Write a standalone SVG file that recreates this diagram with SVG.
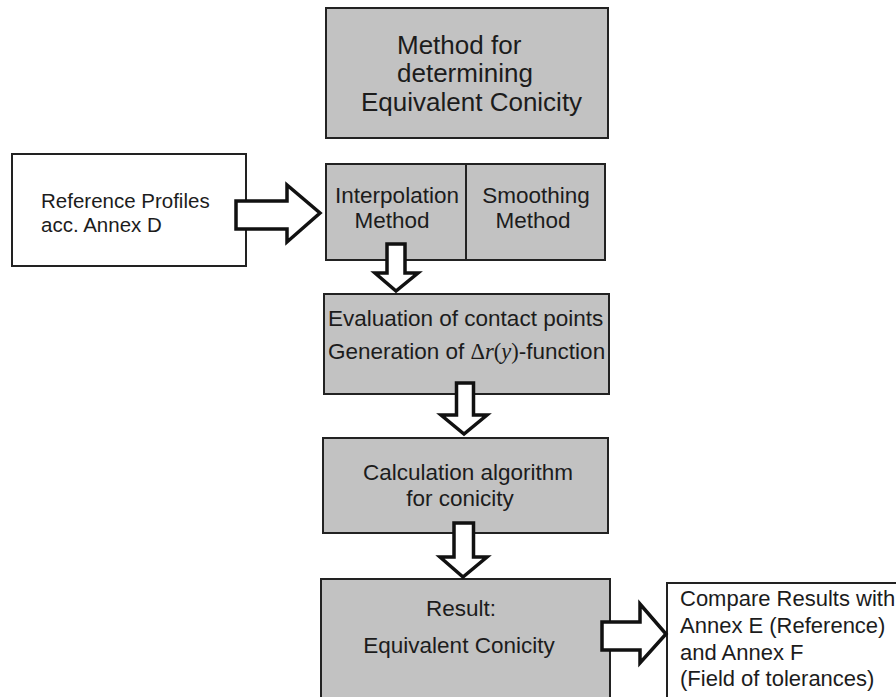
<svg xmlns="http://www.w3.org/2000/svg" width="896" height="697" viewBox="0 0 896 697">
<style>
.box{fill:#c2c2c2;stroke:#222;stroke-width:2}
.wbox{fill:#fff;stroke:#222;stroke-width:2}
text{font-family:"Liberation Sans",Arial,sans-serif;fill:#1c1c1c}
.t26{font-size:26px}
.t22{font-size:22.5px}
.t22b{font-size:22px}
.t20{font-size:20.5px}
.arr{fill:#fff;stroke:#111;stroke-width:3.5;stroke-linejoin:miter}
.serif{font-family:"Liberation Serif","Times New Roman",serif}
</style>
<rect width="896" height="697" fill="#fff"/>
<g id="title">
<rect class="box" x="326" y="8" width="282" height="130"/>
<text class="t26" x="397" y="54">Method for</text>
<text class="t26" x="397" y="82">determining</text>
<text class="t26" x="361" y="111">Equivalent Conicity</text>
</g>
<g id="reference-profiles">
<rect class="wbox" x="12" y="154" width="234" height="112"/>
<text class="t20" x="41" y="208">Reference Profiles</text>
<text class="t20" x="41" y="232">acc. Annex D</text>
</g>
<g id="interpolation">
<rect class="box" x="326" y="164" width="140" height="96"/>
<text class="t22" x="397" y="203" text-anchor="middle">Interpolation</text>
<text class="t22" x="392" y="228" text-anchor="middle">Method</text>
</g>
<g id="smoothing">
<rect class="box" x="466" y="164" width="139" height="96"/>
<text class="t22" x="536" y="203" text-anchor="middle">Smoothing</text>
<text class="t22" x="533" y="228" text-anchor="middle">Method</text>
</g>
<g id="evaluation">
<rect class="box" x="324" y="294" width="285" height="100"/>
<text class="t22" x="328" y="326">Evaluation of contact points</text>
<text class="t22" x="328" y="359">Generation of <tspan class="serif">Δ</tspan><tspan class="serif" font-style="italic">r</tspan><tspan class="serif">(</tspan><tspan class="serif" font-style="italic">y</tspan><tspan class="serif">)</tspan>-function</text>
</g>
<g id="calculation">
<rect class="box" x="323" y="438" width="285" height="95"/>
<text class="t22" x="468" y="480" text-anchor="middle">Calculation algorithm</text>
<text class="t22" x="460" y="506" text-anchor="middle">for conicity</text>
</g>
<g id="result">
<rect class="box" x="321" y="579" width="289" height="140"/>
<text class="t22" x="461" y="616" text-anchor="middle">Result:</text>
<text class="t22" x="459" y="653" text-anchor="middle">Equivalent Conicity</text>
</g>
<g id="compare">
<rect class="wbox" x="667" y="583" width="250" height="140"/>
<text class="t22b" x="680" y="606">Compare Results with</text>
<text class="t22b" x="680" y="633">Annex E (Reference)</text>
<text class="t22b" x="680" y="660">and Annex F</text>
<text class="t22b" x="680" y="686">(Field of tolerances)</text>
</g>
<g id="connectors">
<path class="arr" stroke-width="4" d="M236,201 H287 V185 L320,213 L287,242 V229 H236 Z"/>
<path class="arr" stroke-width="3" d="M387,244 H405 V273 H418 L396,291 L375,273 H387 Z"/>
<path class="arr" stroke-width="3" d="M456.5,383 H473.5 V415 H487 L464,434 L441,415 H456.5 Z"/>
<path class="arr" stroke-width="3" d="M454,523 H473.5 V557 H487 L463,577 L440,557 H454 Z"/>
<path class="arr" d="M602,622 H640 V604 L666,634 L640,663 V650 H602 Z"/>
</g>
</svg>
